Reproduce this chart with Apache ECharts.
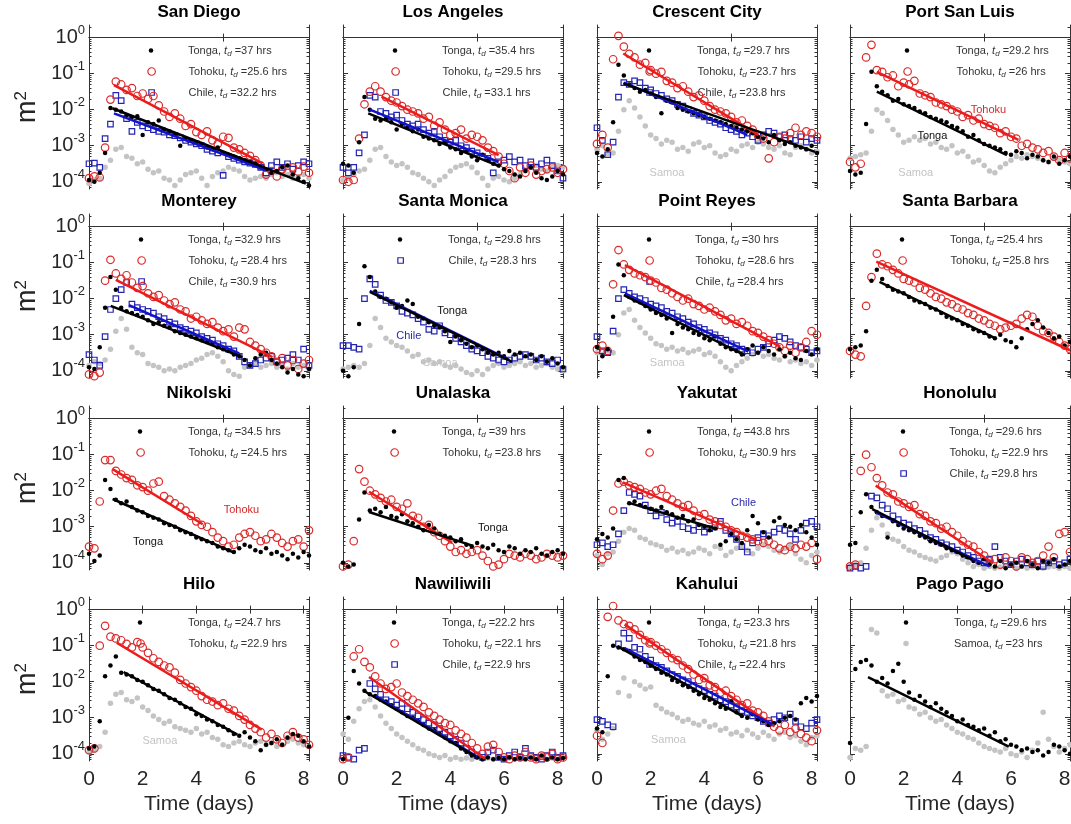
<!DOCTYPE html>
<html>
<head>
<meta charset="utf-8">
<script src="https://cdn.jsdelivr.net/npm/echarts@6/dist/echarts.min.js"></script>
<style>
html, body { margin: 0; background: #fff; }
#chart { width: 1071px; height: 824px; }
</style>
</head>
<body>
<div id="chart"></div>
<script>
// time grid (days) shared by all observation arrays
const times = [0,0.2,0.4,0.6,0.8,1,1.2,1.4,1.6,1.8,2,2.2,2.4,2.6,2.8,3,3.2,3.4,3.6,3.8,4,4.2,4.4,4.6,4.8,5,5.2,5.4,5.6,5.8,6,6.2,6.4,6.6,6.8,7,7.2,7.4,7.6,7.8,8,8.2];

const stations = ['San Diego','Los Angeles','Crescent City','Port San Luis','Monterey','Santa Monica','Point Reyes','Santa Barbara',
  'Nikolski','Unalaska','Yakutat','Honolulu','Hilo','Nawiliwili','Kahului','Pago Pago'];

// decay times t_d (hrs), null = not in that panel's legend
const tongaTd  = [37, 35.4, 29.7, 29.2, 32.9, 29.8, 30, 25.4, 34.5, 39, 43.8, 29.6, 24.7, 22.2, 23.3, 29.6];
const tohokuTd = [25.6, 29.5, 23.7, 26, 28.4, null, 28.6, 25.8, 24.5, 23.8, 30.9, 22.9, 22.9, 22.1, 21.8, null];
const chileTd  = [32.2, 33.1, 23.8, null, 30.9, 28.3, 28.4, null, null, null, null, 29.8, null, 22.9, 22.4, null];
const samoaTd  = [null, null, null, null, null, null, null, null, null, null, null, null, null, null, null, 23];

// log10 of energy (m^2) on the times grid
const tongaObs = [
  [-3.95,-4.00,-3.75,-3.20,-1.95,-2.00,-2.05,-2.15,-2.20,-2.18,-2.70,-2.35,-2.40,-2.30,-2.55,-2.60,-2.70,-3.00,-2.80,-2.85,-2.90,-2.95,-3.05,-3.10,-3.05,-3.20,-3.25,-3.30,-3.35,-3.40,-3.45,-3.50,-3.60,-3.65,-3.75,-3.70,-3.60,-3.55,-3.80,-3.90,-4.00,-4.10],
  [-3.50,-3.55,-3.75,-2.90,-1.65,-2.00,-2.25,-2.30,-2.25,-2.35,-2.55,-2.40,-2.50,-2.60,-2.55,-2.75,-2.80,-2.85,-2.95,-2.90,-3.05,-3.10,-3.20,-3.15,-3.30,-3.40,-3.25,-3.40,-3.50,-3.55,-3.65,-3.70,-3.80,-3.85,-3.70,-3.60,-3.75,-3.90,-3.95,-3.85,-3.70,-3.80],
  [-3.20,-3.30,-3.10,-2.35,-0.75,-1.05,-1.30,-1.40,-1.50,-1.45,-1.55,-1.65,-2.10,-1.75,-1.80,-1.95,-2.00,-2.05,-2.10,-2.15,-2.20,-2.25,-2.30,-2.35,-2.40,-2.45,-2.50,-2.55,-2.60,-2.65,-2.75,-2.80,-2.90,-2.70,-2.85,-2.95,-2.90,-3.00,-3.05,-3.10,-3.00,-3.20],
  [-3.70,-3.80,-3.75,-2.40,-0.95,-1.35,-1.50,-1.60,-1.75,-1.70,-1.85,-1.90,-1.95,-2.05,-2.10,-2.20,-2.25,-2.30,-2.35,-2.45,-2.50,-2.60,-2.75,-2.70,-2.85,-2.95,-3.00,-3.05,-3.10,-3.20,-3.25,-3.15,-3.20,-3.35,-3.25,-3.30,-3.40,-3.45,-3.30,-3.50,-3.40,-3.30],
  [-3.90,-3.95,-3.35,-2.25,-1.40,-1.75,-2.25,-2.35,-2.40,-2.45,-2.50,-2.60,-2.70,-2.65,-2.75,-2.80,-2.90,-2.95,-3.00,-3.05,-3.10,-3.15,-3.20,-3.25,-3.35,-3.40,-3.45,-3.55,-3.60,-3.70,-3.85,-3.65,-3.55,-3.50,-3.70,-3.80,-3.90,-4.05,-3.95,-4.10,-4.15,-3.95],
  [-4.00,-4.15,-3.90,-2.70,-1.10,-1.40,-1.80,-1.95,-2.00,-2.10,-2.25,-2.20,-2.05,-2.15,-2.50,-2.55,-2.65,-2.75,-2.80,-2.90,-3.20,-3.05,-3.15,-3.25,-3.35,-3.30,-3.40,-3.50,-3.55,-3.50,-3.60,-3.45,-3.55,-3.50,-3.60,-3.55,-3.70,-3.60,-3.75,-3.65,-3.80,-3.90],
  [-3.35,-3.60,-3.40,-2.50,-1.05,-1.35,-1.95,-2.05,-2.10,-2.20,-2.30,-2.40,-2.45,-2.55,-2.95,-2.70,-2.80,-2.85,-2.95,-3.00,-3.10,-3.15,-3.05,-3.25,-3.35,-3.40,-3.45,-3.55,-3.40,-3.30,-3.50,-3.35,-3.45,-3.55,-3.40,-3.60,-3.50,-3.65,-3.70,-3.45,-3.55,-3.40],
  [-3.40,-3.35,-3.30,-2.90,-1.50,-1.20,-1.45,-1.65,-1.75,-1.80,-1.85,-1.95,-2.05,-2.10,-2.15,-2.25,-2.30,-2.40,-2.50,-2.55,-2.60,-2.70,-2.75,-2.85,-2.90,-2.95,-3.05,-3.10,-3.00,-3.15,-3.20,-3.35,-3.10,-2.85,-2.70,-2.60,-2.80,-2.95,-3.10,-3.05,-3.30,-3.20],
  [-3.75,-3.95,-3.80,-1.70,-1.95,-2.25,-2.35,-2.30,-2.45,-2.55,-2.60,-2.70,-2.75,-2.80,-2.90,-2.95,-3.00,-3.10,-3.15,-3.20,-3.30,-3.35,-3.40,-3.45,-3.55,-3.60,-3.65,-3.70,-3.60,-3.50,-3.55,-3.65,-3.70,-3.60,-3.75,-3.70,-3.80,-3.90,-3.75,-3.85,-3.70,-3.80],
  [-4.00,-4.10,-4.05,-2.80,-2.05,-2.55,-2.50,-2.60,-2.45,-2.70,-2.75,-2.65,-2.85,-2.90,-3.00,-3.10,-2.95,-3.05,-3.20,-3.25,-3.30,-3.40,-3.35,-3.50,-3.55,-3.45,-3.55,-3.60,-3.50,-3.65,-3.70,-3.55,-3.60,-3.75,-3.65,-3.70,-3.60,-3.75,-3.80,-3.70,-3.65,-3.75],
  [-3.35,-3.20,-3.30,-3.05,-1.70,-1.65,-2.35,-2.30,-2.40,-2.45,-2.50,-2.55,-2.45,-2.60,-2.65,-2.75,-2.70,-2.85,-2.80,-2.95,-3.00,-3.10,-3.05,-3.50,-3.40,-3.20,-3.35,-3.45,-3.10,-2.70,-2.90,-3.15,-3.30,-2.85,-2.75,-2.95,-3.00,-3.10,-2.95,-3.15,-3.30,-3.50],
  [-3.50,-3.45,-2.60,-2.10,-2.45,-2.60,-2.70,-3.30,-2.85,-2.95,-3.05,-3.10,-3.15,-3.25,-3.30,-3.40,-3.45,-3.50,-3.60,-3.65,-3.70,-3.80,-3.85,-3.95,-4.00,-3.90,-4.05,-4.10,-3.95,-4.15,-4.05,-4.00,-4.10,-3.95,-4.05,-4.15,-3.95,-4.00,-3.90,-4.10,-4.05,-3.95],
  [-3.85,-3.80,-3.10,-1.85,-1.55,-1.30,-1.75,-1.80,-1.85,-1.95,-2.00,-2.10,-2.20,-2.25,-2.35,-2.45,-2.50,-2.60,-2.70,-2.75,-2.90,-2.95,-3.05,-3.10,-3.20,-3.25,-3.35,-3.45,-3.50,-3.40,-3.55,-3.65,-3.90,-3.75,-3.70,-3.60,-3.75,-3.55,-3.45,-3.50,-3.65,-3.80],
  [-4.15,-3.00,-1.70,-2.05,-2.25,-2.35,-2.40,-2.50,-2.55,-2.65,-2.75,-2.85,-2.95,-3.00,-3.10,-3.20,-3.30,-3.35,-3.45,-3.55,-3.65,-3.70,-3.85,-3.95,-4.05,-4.10,-4.15,-4.10,-4.15,-4.12,-4.15,-4.10,-4.15,-4.12,-4.15,-4.10,-4.15,-4.05,-4.15,-4.10,-4.15,-4.12],
  [-3.30,-3.40,-1.85,-1.00,-1.05,-1.10,-1.15,-1.30,-1.40,-1.45,-1.55,-1.65,-1.75,-1.80,-1.95,-2.00,-2.10,-2.15,-2.25,-2.35,-2.45,-2.50,-2.60,-2.70,-2.75,-2.55,-2.85,-2.95,-3.00,-2.90,-3.05,-3.10,-3.20,-3.15,-3.10,-3.00,-2.95,-3.05,-2.60,-2.45,-2.55,-2.40],
  [-3.70,-1.65,-1.45,-1.40,-1.55,-2.00,-1.90,-2.05,-1.70,-1.50,-2.00,-2.30,-2.50,-2.40,-2.55,-2.70,-2.60,-2.75,-2.85,-2.95,-3.10,-3.05,-3.20,-3.25,-3.35,-3.30,-3.50,-3.40,-3.65,-3.60,-3.75,-3.80,-3.90,-3.85,-3.95,-3.90,-4.05,-3.95,-3.75,-3.80,-3.90,-4.00]
];

const tohokuObs = [
  [-3.90,-3.85,-3.88,-3.05,-1.72,-1.22,-1.30,-1.45,-1.40,-1.62,-1.55,-1.70,-1.62,-1.88,-2.05,-2.20,-2.10,-2.25,-2.45,-2.40,-2.62,-2.70,-2.60,-2.85,-2.95,-2.75,-2.78,-3.05,-3.10,-3.20,-3.28,-3.40,-3.55,-3.80,-3.70,-3.85,-3.65,-3.75,-3.60,-3.72,-3.58,-3.75],
  [-3.95,-4.00,-3.95,-2.80,-1.85,-1.50,-1.35,-1.50,-1.65,-1.75,-1.80,-1.90,-2.00,-2.05,-2.10,-2.25,-2.20,-2.45,-2.35,-2.55,-2.70,-2.65,-2.55,-2.80,-2.70,-2.75,-2.85,-3.05,-3.15,-3.30,-3.50,-3.70,-3.90,-3.60,-3.75,-3.55,-3.80,-3.70,-3.65,-3.60,-3.75,-3.65],
  [-2.95,-2.70,-3.05,-0.60,0.05,-0.25,-0.45,-0.55,-0.75,-0.70,-0.90,-1.00,-0.95,-1.20,-1.25,-1.40,-1.35,-1.50,-1.65,-1.60,-1.75,-1.90,-2.00,-2.05,-2.10,-2.20,-2.35,-2.30,-2.45,-2.55,-2.70,-2.80,-3.35,-2.90,-2.75,-2.80,-2.65,-2.50,-2.70,-2.60,-2.65,-2.75],
  [-3.45,-3.60,-3.50,-0.55,-0.20,-0.90,-0.95,-1.10,-1.05,-1.35,-1.25,-1.30,-1.20,-1.55,-1.60,-1.65,-1.80,-1.85,-1.90,-2.00,-2.05,-2.20,-2.15,-2.30,-2.25,-2.40,-2.45,-2.50,-2.65,-2.60,-2.75,-2.80,-3.00,-2.95,-3.05,-3.10,-3.20,-3.15,-3.30,-3.40,-3.20,-3.35],
  [-4.10,-4.15,-4.05,-1.50,-0.92,-1.30,-1.45,-1.35,-1.55,-1.70,-1.65,-1.85,-1.95,-1.90,-2.05,-2.15,-2.10,-2.30,-2.35,-2.55,-2.50,-2.60,-2.70,-2.65,-2.80,-2.90,-2.85,-3.05,-2.80,-2.85,-3.20,-3.30,-3.40,-3.50,-3.60,-3.75,-3.65,-3.85,-3.70,-3.95,-3.80,-3.70],
  null,
  [-3.40,-3.30,-3.45,-1.60,-0.65,-1.05,-1.20,-1.30,-1.35,-1.40,-1.50,-1.55,-1.70,-1.75,-1.85,-1.95,-2.05,-2.00,-2.15,-2.20,-2.30,-2.25,-2.35,-2.45,-2.60,-2.55,-2.70,-2.65,-2.75,-2.90,-2.95,-3.05,-3.15,-3.25,-3.35,-3.45,-3.30,-3.50,-3.35,-3.20,-2.90,-3.00],
  [-3.45,-3.55,-3.60,-2.20,-1.40,-0.75,-1.05,-1.10,-1.20,-1.30,-1.45,-1.50,-1.55,-1.70,-1.75,-1.85,-1.95,-2.00,-2.10,-2.15,-2.25,-2.30,-2.40,-2.45,-2.55,-2.60,-2.70,-2.75,-2.85,-2.80,-2.75,-2.70,-2.55,-2.45,-2.50,-2.75,-2.90,-2.95,-3.05,-3.20,-3.30,-3.40],
  [-3.55,-3.60,-2.30,-1.15,-1.15,-1.45,-1.55,-1.65,-1.70,-1.85,-1.90,-2.00,-1.80,-1.75,-2.15,-2.25,-2.35,-2.45,-2.55,-2.70,-2.85,-2.95,-3.00,-3.15,-3.30,-3.40,-3.55,-3.50,-3.30,-3.20,-3.15,-3.25,-3.40,-3.35,-3.20,-3.30,-3.45,-3.55,-3.40,-3.35,-3.55,-3.10],
  [-4.10,-4.05,-3.40,-1.40,-1.75,-2.00,-2.10,-2.20,-2.30,-2.25,-2.45,-2.50,-2.35,-2.70,-2.75,-3.00,-2.95,-3.15,-3.25,-3.40,-3.55,-3.70,-3.65,-3.75,-3.70,-3.65,-3.80,-3.95,-4.10,-4.05,-3.90,-3.75,-3.80,-3.85,-3.75,-3.80,-3.90,-3.85,-3.75,-3.80,-3.85,-3.80],
  [-3.75,-3.90,-3.80,-2.55,-1.80,-1.75,-1.85,-1.90,-1.95,-2.05,-2.10,-2.00,-1.95,-2.15,-2.25,-2.35,-2.45,-2.40,-2.55,-2.70,-2.65,-2.80,-2.85,-2.95,-3.00,-3.10,-3.15,-3.25,-3.30,-3.35,-3.40,-3.45,-3.40,-3.50,-3.60,-3.65,-3.55,-3.60,-3.50,-3.55,-3.45,-3.90],
  [-4.10,-4.05,-1.45,-1.00,-1.35,-1.65,-1.85,-2.05,-2.10,-2.30,-2.35,-2.45,-2.40,-2.65,-2.70,-2.85,-2.90,-3.05,-3.00,-3.15,-3.25,-3.40,-3.50,-3.55,-3.70,-3.80,-3.95,-3.90,-4.05,-3.85,-3.95,-4.10,-3.85,-3.90,-4.00,-3.95,-3.80,-3.55,-3.85,-3.20,-3.15,-3.70],
  [-3.90,-3.85,-1.00,-0.45,-0.75,-0.80,-0.85,-0.95,-1.05,-0.90,-1.05,-1.20,-1.35,-1.45,-1.55,-1.60,-1.75,-1.95,-2.05,-2.15,-2.25,-2.40,-2.50,-2.55,-2.65,-2.60,-2.75,-2.80,-2.95,-3.05,-3.20,-3.30,-3.40,-3.55,-3.45,-3.60,-3.70,-3.50,-3.40,-3.55,-3.60,-3.75],
  [-4.15,-4.10,-1.30,-1.10,-1.45,-1.60,-1.85,-2.05,-2.20,-2.15,-2.05,-2.30,-2.40,-2.50,-2.60,-2.70,-2.85,-2.95,-3.05,-3.15,-3.20,-3.35,-3.45,-3.55,-3.70,-3.85,-4.00,-3.80,-3.75,-3.95,-4.10,-4.15,-4.05,-4.10,-3.95,-4.10,-4.15,-4.05,-4.10,-4.00,-4.15,-4.10],
  [-3.50,-3.70,-0.20,0.10,-0.30,-0.40,-0.45,-0.55,-0.70,-0.85,-0.90,-1.00,-1.10,-1.20,-1.35,-1.40,-1.55,-1.65,-1.80,-1.95,-1.90,-2.10,-2.15,-2.30,-2.25,-2.40,-2.50,-2.65,-2.60,-2.80,-2.85,-2.95,-3.10,-3.25,-3.35,-3.20,-3.40,-3.30,-3.45,-3.55,-3.65,-3.35],
  null
];

const chileObs = [
  [-3.50,-3.48,-3.60,-2.80,-2.40,-1.60,-1.75,-2.25,-2.60,-2.35,-2.45,-2.50,-2.55,-2.60,-2.62,-2.70,-2.72,-2.78,-2.85,-2.90,-2.95,-3.00,-3.10,-3.15,-3.20,-3.82,-3.30,-3.35,-3.40,-3.45,-3.48,-3.52,-3.60,-3.75,-3.55,-3.45,-3.60,-3.50,-3.65,-3.55,-3.45,-3.50],
  [-3.60,-3.75,-3.60,-3.20,-2.70,-1.60,-1.65,-2.05,-2.10,-2.20,-2.15,-2.30,-2.40,-2.45,-2.40,-2.55,-2.65,-2.60,-2.75,-2.85,-2.90,-2.85,-3.00,-3.05,-3.15,-3.20,-3.30,-3.35,-3.75,-3.45,-3.40,-3.30,-3.45,-3.40,-3.55,-3.45,-3.60,-3.50,-3.40,-3.55,-3.70,-3.90],
  [-2.50,-2.85,-3.25,-2.90,-1.65,-1.25,-1.30,-1.20,-1.25,-1.40,-1.45,-1.55,-1.60,-1.70,-1.75,-1.85,-1.90,-2.00,-2.10,-2.15,-2.20,-2.30,-2.35,-2.40,-2.50,-2.55,-2.60,-2.70,-2.65,-2.75,-2.85,-2.70,-2.60,-2.65,-2.75,-2.70,-2.80,-2.85,-2.75,-2.90,-2.80,-2.85],
  null,
  [-3.55,-3.70,-3.85,-3.05,-2.30,-2.00,-1.75,-1.55,-2.15,-2.25,-2.30,-2.35,-2.40,-2.50,-2.55,-2.65,-2.70,-2.80,-2.85,-2.90,-2.95,-3.05,-3.10,-3.15,-3.25,-3.30,-3.40,-3.45,-3.60,-3.75,-3.85,-3.80,-3.70,-3.65,-3.60,-3.75,-3.70,-3.65,-3.55,-3.70,-3.40,-3.85],
  [-3.30,-3.30,-3.35,-3.40,-2.00,-1.45,-1.60,-1.90,-2.05,-2.10,-2.20,-2.35,-2.40,-2.45,-2.55,-2.65,-2.85,-2.90,-2.75,-2.95,-3.00,-3.10,-3.20,-3.30,-3.40,-3.45,-3.50,-3.60,-3.65,-3.70,-3.75,-3.70,-3.65,-3.60,-3.55,-3.60,-3.70,-3.65,-3.75,-3.80,-3.70,-3.95],
  [-3.05,-3.45,-3.50,-2.90,-2.00,-1.75,-1.85,-1.95,-2.00,-2.05,-2.15,-2.20,-2.25,-2.35,-2.40,-2.50,-2.55,-2.65,-2.70,-2.80,-2.85,-2.95,-3.00,-3.10,-3.15,-3.25,-3.30,-3.40,-3.45,-3.50,-3.40,-3.35,-3.25,-3.15,-3.05,-3.10,-3.20,-3.30,-3.35,-3.40,-3.50,-3.45],
  null,
  null,
  null,
  [-3.50,-3.45,-3.55,-3.50,-3.20,-2.55,-2.05,-2.10,-2.15,-2.40,-2.55,-2.70,-2.60,-2.80,-2.90,-2.85,-3.00,-3.05,-3.10,-3.00,-3.15,-3.05,-2.95,-2.85,-3.10,-3.20,-3.35,-3.55,-3.70,-3.45,-3.30,-3.20,-3.25,-3.15,-3.05,-3.10,-3.20,-3.35,-3.10,-2.90,-2.85,-3.00],
  [-4.15,-4.10,-4.15,-4.10,-2.15,-2.20,-2.40,-2.50,-2.70,-2.80,-2.90,-2.95,-3.05,-3.10,-3.20,-3.30,-3.35,-3.45,-3.50,-3.55,-3.65,-3.70,-3.80,-3.85,-3.95,-4.00,-3.90,-3.55,-3.85,-3.95,-4.05,-3.95,-3.90,-4.00,-4.05,-3.95,-4.10,-4.00,-3.95,-4.05,-4.00,-3.90],
  null,
  [-4.05,-4.10,-4.15,-3.90,-3.85,-2.05,-2.20,-2.35,-2.50,-2.55,-2.65,-2.60,-2.75,-2.85,-2.95,-3.05,-3.15,-3.20,-3.30,-3.40,-3.50,-3.60,-3.70,-3.85,-3.95,-4.05,-4.10,-3.95,-3.90,-4.10,-4.15,-4.05,-3.95,-4.10,-3.85,-4.05,-4.10,-4.15,-4.05,-3.95,-4.10,-4.05],
  [-3.05,-3.10,-3.20,-3.25,-0.95,-0.65,-0.80,-1.05,-1.10,-1.30,-1.40,-1.55,-1.60,-1.70,-1.80,-1.85,-1.95,-2.00,-2.10,-2.20,-2.25,-2.35,-2.40,-2.50,-2.55,-2.65,-2.70,-2.80,-2.85,-2.95,-3.00,-3.10,-3.15,-3.05,-2.95,-3.00,-2.90,-3.10,-3.25,-3.30,-3.15,-3.05],
  null
];

const samoaObs = [
  [-4.05,-3.95,-3.90,-3.60,-3.40,-3.10,-3.05,-3.30,-3.35,-3.50,-3.45,-3.65,-3.75,-3.70,-3.90,-3.95,-4.10,-3.95,-3.80,-3.75,-3.70,-3.90,-4.10,-3.85,-3.75,-3.70,-3.60,-3.65,-3.70,-3.85,-3.95,-3.90,-3.85,-3.90,-3.80,-3.75,-3.85,-3.80,-3.90,-3.85,-3.80,-3.90],
  [-3.95,-3.90,-3.80,-3.70,-3.65,-3.40,-3.10,-3.05,-3.30,-3.45,-3.55,-3.50,-3.60,-3.75,-3.80,-3.90,-4.00,-4.10,-3.95,-3.85,-3.70,-3.60,-3.55,-3.50,-3.60,-3.75,-3.90,-4.10,-3.90,-3.85,-3.95,-4.00,-3.90,-3.80,-3.70,-3.60,-3.55,-3.65,-3.70,-3.60,-3.55,-3.60],
  [-3.10,-3.00,-3.25,-3.20,-2.60,-2.00,-1.75,-1.95,-2.20,-2.45,-2.70,-2.80,-2.95,-2.85,-2.90,-3.10,-3.05,-3.15,-2.95,-2.90,-3.05,-3.00,-3.20,-3.30,-3.25,-3.10,-3.15,-3.00,-2.95,-3.05,-2.90,-2.95,-3.05,-3.10,-3.00,-3.20,-3.25,-3.05,-3.00,-3.10,-3.20,-3.15],
  [-3.35,-3.30,-3.25,-3.20,-2.60,-2.00,-2.10,-2.30,-2.55,-2.70,-2.90,-2.85,-2.75,-2.85,-2.80,-2.95,-2.90,-3.05,-3.10,-3.00,-3.20,-3.15,-3.30,-3.45,-3.40,-3.55,-3.70,-3.75,-3.60,-3.50,-3.40,-3.30,-3.35,-3.25,-3.30,-3.35,-3.40,-3.45,-3.35,-3.40,-3.45,-3.50],
  [-3.85,-3.75,-3.80,-3.70,-3.40,-2.90,-2.55,-2.85,-3.35,-3.50,-3.55,-3.80,-3.85,-3.90,-4.00,-3.95,-4.00,-3.90,-3.85,-3.80,-3.70,-3.65,-3.55,-3.50,-3.60,-3.75,-4.00,-4.10,-4.15,-3.90,-3.85,-3.80,-3.90,-3.85,-3.80,-3.90,-3.85,-3.95,-3.80,-3.90,-3.85,-3.95],
  [-3.95,-3.90,-3.85,-3.90,-3.80,-3.30,-2.55,-2.80,-3.10,-3.20,-3.30,-3.35,-3.45,-3.60,-3.55,-3.75,-3.70,-3.80,-3.75,-3.85,-3.90,-3.85,-3.95,-4.05,-4.10,-4.00,-4.10,-3.95,-3.85,-3.80,-3.90,-3.85,-3.80,-3.75,-3.85,-3.80,-3.90,-3.85,-3.80,-3.90,-3.95,-4.00],
  [-3.50,-3.55,-3.45,-3.50,-3.00,-2.40,-2.30,-2.60,-2.80,-2.95,-3.10,-3.25,-3.30,-3.40,-3.35,-3.45,-3.40,-3.50,-3.45,-3.40,-3.55,-3.50,-3.60,-3.75,-3.90,-4.00,-3.85,-3.75,-3.65,-3.55,-3.50,-3.60,-3.55,-3.65,-3.70,-3.60,-3.75,-3.70,-3.80,-3.75,-3.85,-3.70],
  null,
  null,
  null,
  [-3.80,-4.05,-3.75,-3.70,-3.40,-3.15,-3.05,-3.10,-3.30,-3.35,-3.45,-3.50,-3.55,-3.65,-3.60,-3.70,-3.65,-3.75,-3.70,-3.60,-3.65,-3.75,-3.55,-3.60,-3.80,-3.70,-3.60,-3.55,-3.65,-3.75,-3.60,-3.50,-3.55,-3.65,-3.70,-3.60,-3.55,-3.75,-3.90,-4.00,-3.80,-3.70],
  [-4.10,-4.05,-4.00,-3.60,-3.10,-2.75,-2.95,-3.20,-3.35,-3.40,-3.55,-3.65,-3.70,-3.80,-3.85,-3.90,-3.95,-3.85,-3.80,-3.70,-3.75,-3.90,-4.00,-4.10,-4.05,-4.15,-4.10,-4.15,-4.12,-4.10,-4.05,-4.15,-4.10,-4.15,-4.12,-4.10,-4.15,-4.12,-4.10,-4.15,-4.10,-4.15],
  [-3.95,-3.90,-3.80,-3.40,-2.60,-2.35,-2.30,-2.50,-2.55,-2.45,-2.70,-2.80,-2.95,-3.05,-3.15,-3.10,-3.25,-3.30,-3.35,-3.40,-3.30,-3.45,-3.40,-3.55,-3.60,-3.75,-3.80,-3.70,-3.65,-3.75,-3.80,-3.70,-3.65,-3.75,-3.70,-3.80,-3.75,-3.65,-3.60,-3.70,-3.75,-3.80],
  [-3.45,-3.60,-3.10,-2.75,-2.55,-2.50,-2.70,-2.95,-3.15,-3.30,-3.45,-3.55,-3.65,-3.75,-3.85,-3.90,-4.00,-4.05,-4.10,-4.05,-4.15,-4.10,-4.15,-4.12,-4.15,-4.10,-4.15,-4.12,-4.15,-4.10,-4.15,-4.12,-4.15,-4.10,-4.15,-4.12,-4.15,-4.10,-4.15,-4.12,-4.15,-4.10],
  [-3.35,-3.60,-3.45,-3.30,-2.30,-1.90,-2.40,-2.00,-2.10,-2.20,-2.15,-2.65,-2.75,-2.85,-2.90,-3.00,-3.10,-3.05,-3.15,-3.20,-3.10,-3.25,-3.20,-3.35,-3.30,-3.45,-3.40,-3.50,-3.35,-3.45,-3.55,-3.40,-3.50,-3.60,-3.45,-3.40,-3.55,-3.50,-3.65,-3.75,-3.55,-3.50],
  [-4.10,-3.85,-3.90,-3.80,-0.55,-0.65,-2.25,-2.40,-2.35,-2.55,-2.50,-2.70,-2.75,-2.90,-2.85,-3.00,-3.10,-3.05,-3.20,-3.30,-3.40,-3.45,-3.55,-3.60,-3.70,-3.80,-3.85,-3.90,-3.95,-3.85,-4.00,-4.05,-3.95,-4.10,-3.90,-3.70,-2.85,-3.60,-3.80,-3.95,-3.85,-3.75]
];

// exponential-decay fits: [t start, log10 start, t end, log10 end]
const tongaFit = [
  [0.87,-1.96,8.08,-4.05],[0.94,-2.10,5.86,-3.58],[0.98,-1.27,8.13,-3.17],[1.00,-1.50,5.85,-3.26],
  [0.81,-2.20,5.72,-3.62],[1.00,-1.81,6.30,-3.75],[1.00,-1.90,5.52,-3.57],[1.10,-1.53,5.35,-3.07],
  [0.88,-2.23,5.40,-3.72],[0.97,-2.59,4.85,-3.53],[1.16,-2.33,4.50,-3.07],[0.83,-2.51,4.55,-3.91],
  [1.29,-1.73,5.53,-3.47],[0.77,-2.25,4.95,-4.08],[0.77,-1.02,5.40,-2.95],[0.67,-1.87,5.92,-3.80]
];
const tohokuFit = [
  [0.93,-1.32,6.47,-3.49],[1.44,-1.64,5.80,-3.26],[0.98,-0.44,6.02,-2.70],[1.00,-0.95,6.28,-2.84],
  [1.00,-1.48,6.84,-3.62],null,[1.04,-1.07,6.83,-3.33],[0.98,-0.97,8.20,-3.43],
  [0.88,-1.40,4.24,-2.93],[0.97,-2.03,4.07,-3.44],[0.96,-1.77,5.90,-3.35],[0.96,-1.86,5.32,-4.00],
  [1.03,-0.92,6.44,-3.33],[0.97,-1.87,5.28,-4.13],[1.03,-0.41,6.62,-3.24],null
];
const chileFit = [
  [0.93,-2.10,6.60,-3.68],[1.00,-2.00,5.80,-3.45],[1.00,-1.25,5.60,-2.70],null,
  [1.49,-2.18,5.60,-3.52],[1.00,-1.78,6.20,-3.70],[1.04,-1.85,5.64,-3.47],null,
  null,null,null,[0.96,-2.60,5.20,-4.10],
  null,[1.22,-2.40,5.00,-4.08],[1.03,-1.07,6.55,-3.19],null
];

// in-panel labels: [panel, event, t, log10]
const notes = [
  [2,'Samoa',2.61,-3.75],
  [3,'Tohoku',5.16,-2.01],[3,'Tonga',3.07,-2.72],[3,'Samoa',2.45,-3.75],
  [5,'Tonga',4.07,-2.33],[5,'Chile',2.45,-3.03],[5,'Samoa',3.62,-3.78],
  [6,'Samoa',2.62,-3.78],
  [8,'Tohoku',5.68,-2.53],[8,'Tonga',2.2,-3.42],
  [9,'Tonga',5.59,-3.04],
  [10,'Chile',5.46,-2.33],
  [12,'Samoa',2.64,-3.64],
  [14,'Samoa',2.66,-3.61]
];

// layout
const colLeft = [89, 343, 597, 850];
const rowTop = [25, 214, 406, 597];
const plotW = 220, plotH = 164;
const legendIconX = [62,52,52,57,52,57,52,52,51,51,52,53,51,51,52,56];
const legendTextX = [99,99,100,106,99,105,98,100,99,99,100,99,99,99,100,104];
const legendRowY = [24, 45, 66];

const font = 'Liberation Sans, Arial, Helvetica, sans-serif';
const ink = '#262626';
const frame = '#333333';
const yMin = -4.2, yMax = 0.35;
const decades = [-4, -3, -2, -1, 0];
const minorTicks = [];
for (let n = -5; n <= 0; n++) {
  for (let k = 2; k <= 9; k++) {
    const v = n + Math.log10(k);
    if (v > yMin && v < yMax) minorTicks.push(v);
  }
}

const events = {
  Samoa:  {obs: samoaObs, td: samoaTd, fit: null, symbol: 'circle', size: 5.5, fill: '#c4c4c4', stroke: '#c4c4c4', bw: 0, label: '#c4c4c4', z: 2},
  Chile:  {obs: chileObs, td: chileTd, fit: chileFit, symbol: 'rect', size: 5.5, fill: 'rgba(0,0,0,0)', stroke: '#2424b4', bw: 1.2, line: '#1212c8', label: '#2a2ab0', z: 3},
  Tohoku: {obs: tohokuObs, td: tohokuTd, fit: tohokuFit, symbol: 'circle', size: 7.5, fill: 'rgba(0,0,0,0)', stroke: '#dc2a2a', bw: 1.2, line: '#ec1c1c', label: '#d42a2a', z: 4},
  Tonga:  {obs: tongaObs, td: tongaTd, fit: tongaFit, symbol: 'circle', size: 4.5, fill: '#000', stroke: '#000', bw: 0, line: '#000', label: '#111', z: 5}
};
const drawOrder = ['Samoa', 'Chile', 'Tohoku', 'Tonga'];
const legendOrder = ['Tonga', 'Tohoku', 'Chile', 'Samoa'];

const legendRich = {
  n: {fontSize: 11, lineHeight: 14, color: '#333', fontFamily: font},
  t: {fontSize: 11, lineHeight: 14, fontStyle: 'italic', color: '#333', fontFamily: font},
  d: {fontSize: 8, lineHeight: 8, fontStyle: 'italic', verticalAlign: 'bottom', color: '#333', fontFamily: font}
};

let grids = [], xAxes = [], yAxes = [], series = [], legends = [];

stations.forEach(function (station, p) {
  const r = Math.floor(p / 4), c = p % 4;
  const bottomRow = r === 3;
  grids.push({left: colLeft[c], top: rowTop[r], width: plotW, height: plotH, containLabel: false, outerBoundsMode: 'none'});

  const xTicks = bottomRow ? [0, 2, 4, 6, 8] : [5];
  const xBase = {
    gridIndex: p, type: 'value', min: 0, max: 8.2, splitLine: {show: false},
    axisLine: {show: true, lineStyle: {color: frame, width: 1}},
    axisTick: {inside: true, length: 4, customValues: xTicks, lineStyle: {color: frame}}
  };
  xAxes.push(Object.assign({}, xBase, {
    position: 'bottom',
    name: bottomRow ? 'Time (days)' : '', nameLocation: 'middle', nameGap: 33,
    nameTextStyle: {fontSize: 21, color: ink, fontFamily: font},
    axisLabel: {show: bottomRow, customValues: [0, 2, 4, 6, 8], fontSize: 21, color: ink, fontFamily: font, margin: 8}
  }));
  xAxes.push(Object.assign({}, xBase, {
    position: 'top', name: station, nameLocation: 'middle', nameGap: 4,
    nameTextStyle: {fontSize: 17, fontWeight: 'bold', color: '#000', fontFamily: font},
    axisLabel: {show: false}
  }));

  const yBase = {gridIndex: p, type: 'value', min: yMin, max: yMax, splitLine: {show: false}};
  yAxes.push(Object.assign({}, yBase, {
    position: 'left',
    name: c === 0 ? '{m|m}{s|2}' : '', nameLocation: 'middle', nameRotate: 90, nameGap: 46,
    nameTextStyle: {rich: {
      m: {fontSize: 27, lineHeight: 30, color: ink, fontFamily: font},
      s: {fontSize: 17, lineHeight: 17, verticalAlign: 'top', color: ink, fontFamily: font}
    }},
    axisLine: {show: true, lineStyle: {color: frame, width: 1}},
    axisTick: {inside: true, length: 5, customValues: decades, lineStyle: {color: frame}},
    axisLabel: {
      show: c === 0, customValues: decades, margin: 4,
      formatter: function (v) { return '{b|10}{s|' + Math.round(v) + '}'; },
      rich: {
        b: {fontSize: 20, lineHeight: 28, color: ink, fontFamily: font},
        s: {fontSize: 13, lineHeight: 13, verticalAlign: 'top', color: ink, fontFamily: font}
      }
    }
  }));
  yAxes.push(Object.assign({}, yBase, {
    position: 'left', axisLine: {show: false}, axisLabel: {show: false},
    axisTick: {inside: true, length: 2.5, customValues: minorTicks, lineStyle: {color: frame}}
  }));
  yAxes.push(Object.assign({}, yBase, {
    position: 'right', axisLine: {show: true, lineStyle: {color: frame, width: 1}}, axisLabel: {show: false},
    axisTick: {inside: true, length: 5, customValues: decades, lineStyle: {color: frame}}
  }));
  yAxes.push(Object.assign({}, yBase, {
    position: 'right', axisLine: {show: false}, axisLabel: {show: false},
    axisTick: {inside: true, length: 2.5, customValues: minorTicks, lineStyle: {color: frame}}
  }));

  // observations
  drawOrder.forEach(function (key) {
    const ev = events[key];
    const obs = ev.obs[p];
    if (!obs) return;
    const pts = obs.map(function (v, i) { return [times[i], v]; }).filter(function (d) { return d[1] !== null; });
    const panelNotes = notes.filter(function (n) { return n[0] === p && n[1] === key; });
    series.push({
      name: station + ' ' + key, type: 'scatter', xAxisIndex: 2 * p, yAxisIndex: 4 * p,
      data: pts, symbol: ev.symbol, symbolSize: ev.size, z: ev.z, silent: true,
      itemStyle: {color: ev.fill, borderColor: ev.stroke, borderWidth: ev.bw, opacity: 1},
      markPoint: panelNotes.length ? {
        symbol: 'rect', symbolSize: 1, silent: true, animation: false,
        itemStyle: {color: 'rgba(0,0,0,0)'},
        label: {show: true, position: 'inside', formatter: '{b}', fontSize: 11, color: ev.label, fontFamily: font},
        data: panelNotes.map(function (n) { return {name: n[1], coord: [n[2], n[3]]}; })
      } : undefined
    });
  });

  // fitted decay lines
  ['Tohoku', 'Chile', 'Tonga'].forEach(function (key, k) {
    const ev = events[key];
    const f = ev.fit && ev.fit[p];
    if (!f) return;
    series.push({
      name: station + ' ' + key + ' fit', type: 'line', xAxisIndex: 2 * p, yAxisIndex: 4 * p,
      data: [[f[0], f[1]], [f[2], f[3]]], symbol: 'none', silent: true, z: 10 + k,
      lineStyle: {color: ev.line, width: 2.5}
    });
  });

  // legend rows: icon box = marker size, gap to the text set by a spacer token
  let row = 0;
  legendOrder.forEach(function (key) {
    const ev = events[key];
    const td = ev.td[p];
    if (td === null) return;
    const gap = legendTextX[p] - legendIconX[p] - ev.size / 2 - 5;
    const text = '{g| }{n|' + key + ', }{t|t}{d|d}{n| =' + td + ' hrs}';
    legends.push({
      left: colLeft[c] + legendIconX[p] - ev.size / 2, top: rowTop[r] + legendRowY[row] - 4,
      padding: 0, itemWidth: ev.size, itemHeight: ev.size, selectedMode: false,
      data: [station + ' ' + key],
      formatter: function () { return text; },
      textStyle: {rich: Object.assign({g: {width: gap, lineHeight: 14, fontSize: 11}}, legendRich)},
      itemStyle: {color: ev.fill, borderColor: ev.stroke, borderWidth: ev.bw}
    });
    row++;
  });
});

const chart = echarts.init(document.getElementById('chart'));
chart.setOption({
  backgroundColor: '#fff',
  animation: false,
  grid: grids,
  xAxis: xAxes,
  yAxis: yAxes,
  legend: legends,
  series: series
});
</script>
</body>
</html>
